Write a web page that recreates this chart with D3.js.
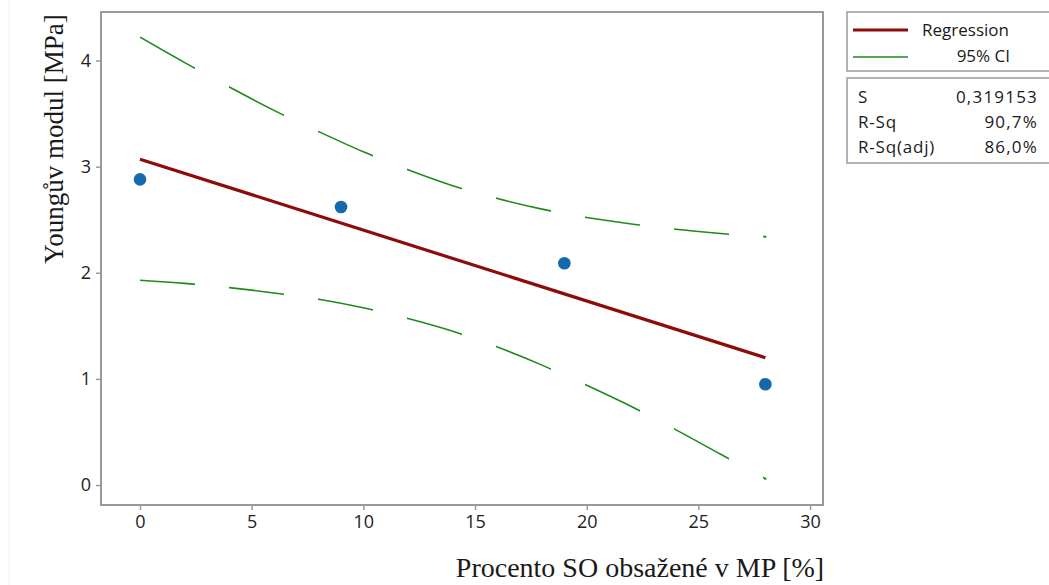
<!DOCTYPE html>
<html>
<head>
<meta charset="utf-8">
<script src="https://cdn.jsdelivr.net/npm/d3@7"></script>
<style>
  body { margin: 0; background: #fff; }
  svg { display: block; }
</style>
</head>
<body>
<div id="chart"></div>
<script>
// data
const pointX = [0, 9, 19, 28];
const pointY = [2.88, 2.62, 2.09, 0.95];

const fitX = [0, 28];
const fitY = [3.07, 1.20];

const ciX = [0, 2, 4, 6, 8, 10, 12, 14, 16, 18, 20, 22, 24, 26, 28];
const ciUpper = [4.22, 3.98, 3.75, 3.53, 3.33, 3.14, 2.97, 2.82, 2.70, 2.60, 2.52, 2.46, 2.41, 2.37, 2.34];
const ciLower = [1.93, 1.90, 1.86, 1.81, 1.75, 1.67, 1.57, 1.45, 1.30, 1.13, 0.94, 0.74, 0.52, 0.29, 0.06];

const xTicks = [0, 5, 10, 15, 20, 25, 30];
const yTicks = [0, 1, 2, 3, 4];

const statNames = ["S", "R-Sq", "R-Sq(adj)"];
const statValues = ["0,319153", "90,7%", "86,0%"];

const w = 1049;
const h = 585;
const plot = {left: 101, right: 823, top: 12, bottom: 505};

const svg = d3.select("#chart").
append("svg").
attr("width", w).
attr("height", h);

// faint line on the far left of the window
svg.append("line").
attr("x1", 9).attr("x2", 9).
attr("y1", 0).attr("y2", h).
attr("stroke", "#f0f0f0").
attr("stroke-width", 1);

const xScale = d3.scaleLinear().
domain([-1.746, 30.58]).
range([plot.left, plot.right]);

const yScale = d3.scaleLinear().
domain([-0.188, 4.457]).
range([plot.bottom, plot.top]);

const uiFont = "'Open Sans', 'Noto Sans', sans-serif";
const serifFont = "'Liberation Serif', 'Times New Roman', serif";

// axes, ticks outside the frame
const xAxis = d3.axisBottom(xScale).tickValues(xTicks).tickSize(5).tickPadding(5).tickFormat(d3.format("d"));
const yAxis = d3.axisLeft(yScale).tickValues(yTicks).tickSize(5).tickPadding(5).tickFormat(d3.format("d"));

const gx = svg.append("g").
attr("transform", "translate(0," + plot.bottom + ")").
call(xAxis);
const gy = svg.append("g").
attr("transform", "translate(" + plot.left + ",0)").
call(yAxis);

[gx, gy].forEach(g => {
  g.select(".domain").remove();
  g.selectAll(".tick line").attr("stroke", "#9a9a9a").attr("stroke-width", 1.5);
  g.selectAll(".tick text").
  attr("fill", "#222").
  style("font-family", uiFont).
  style("font-size", "18px");
});

// frame
svg.append("rect").
attr("x", plot.left).
attr("y", plot.top).
attr("width", plot.right - plot.left).
attr("height", plot.bottom - plot.top).
attr("fill", "none").
attr("stroke", "#9a9a9a").
attr("stroke-width", 2);

// dashes of the CI lines are cut along x, like the original
const dashLen = 55, dashGap = 34;
const clip = svg.append("clipPath").attr("id", "ci-dash");
for (let x0 = xScale(0); x0 < plot.right; x0 += dashLen + dashGap) {
  clip.append("rect").
  attr("x", x0).
  attr("y", plot.top).
  attr("width", dashLen).
  attr("height", plot.bottom - plot.top);
}

const line = d3.line().
x(d => xScale(d[0])).
y(d => yScale(d[1])).
curve(d3.curveMonotoneX);

[ciUpper, ciLower].forEach(series => {
  svg.append("path").
  datum(ciX.map((x, i) => [x, series[i]])).
  attr("d", line).
  attr("fill", "none").
  attr("stroke", "#1e8a1e").
  attr("stroke-width", 1.6).
  attr("clip-path", "url(#ci-dash)");
});

// small dot at the end of each CI line
[ciUpper, ciLower].forEach(series => {
  svg.append("rect").
  attr("x", xScale(28) - 1).
  attr("y", yScale(series[series.length - 1]) - 1).
  attr("width", 2).
  attr("height", 2).
  attr("fill", "#1e8a1e");
});

// regression line
svg.append("path").
datum(fitX.map((x, i) => [x, fitY[i]])).
attr("d", d3.line().x(d => xScale(d[0])).y(d => yScale(d[1]))).
attr("fill", "none").
attr("stroke", "#8e0b0b").
attr("stroke-width", 3.2);

// points
svg.selectAll("circle.pt").
data(pointX.map((x, i) => [x, pointY[i]])).
enter().
append("circle").
attr("class", "pt").
attr("cx", d => xScale(d[0])).
attr("cy", d => yScale(d[1])).
attr("r", 6.3).
attr("fill", "#1469ad");

// axis titles
svg.append("text").
attr("x", 640).
attr("y", 577).
attr("text-anchor", "middle").
style("font-family", serifFont).
style("font-size", "28px").
attr("fill", "#1a1a1a").
text("Procento SO obsažené v MP [%]");

svg.append("text").
attr("transform", "translate(63,139) rotate(-90)").
attr("text-anchor", "middle").
style("font-family", serifFont).
style("font-size", "27px").
attr("fill", "#1a1a1a").
text("Youngův modul [MPa]");

// legend box
const legend = svg.append("g");
legend.append("rect").
attr("x", 847).attr("y", 12).
attr("width", 210).attr("height", 59).
attr("fill", "#fff").
attr("stroke", "#9a9a9a").
attr("stroke-width", 1.5);

legend.append("line").
attr("x1", 853).attr("x2", 908).
attr("y1", 30).attr("y2", 30).
attr("stroke", "#8e0b0b").
attr("stroke-width", 3.2);
legend.append("line").
attr("x1", 853).attr("x2", 908).
attr("y1", 57).attr("y2", 57).
attr("stroke", "#1e8a1e").
attr("stroke-width", 1.6);

legend.append("text").
attr("x", 1009).attr("y", 36).
attr("text-anchor", "end").
style("font-family", uiFont).
style("font-size", "17px").
attr("fill", "#1a1a1a").
text("Regression");
legend.append("text").
attr("x", 1010).attr("y", 62).
attr("text-anchor", "end").
style("font-family", uiFont).
style("font-size", "17px").
attr("fill", "#1a1a1a").
text("95% CI");

// stats box
const stats = svg.append("g");
stats.append("rect").
attr("x", 847).attr("y", 78).
attr("width", 210).attr("height", 85).
attr("fill", "#fff").
attr("stroke", "#9a9a9a").
attr("stroke-width", 1.5);

statNames.forEach((name, i) => {
  stats.append("text").
  attr("x", 858).
  attr("y", 103 + i * 25).
  style("font-family", uiFont).
  style("font-size", "17px").
  style("letter-spacing", "0.8px").
  attr("fill", "#1a1a1a").
  text(name);
  stats.append("text").
  attr("x", 1038).
  attr("y", 103 + i * 25).
  attr("text-anchor", "end").
  style("font-family", uiFont).
  style("font-size", "17px").
  style("letter-spacing", "1.2px").
  attr("fill", "#1a1a1a").
  text(statValues[i]);
});
</script>
</body>
</html>
